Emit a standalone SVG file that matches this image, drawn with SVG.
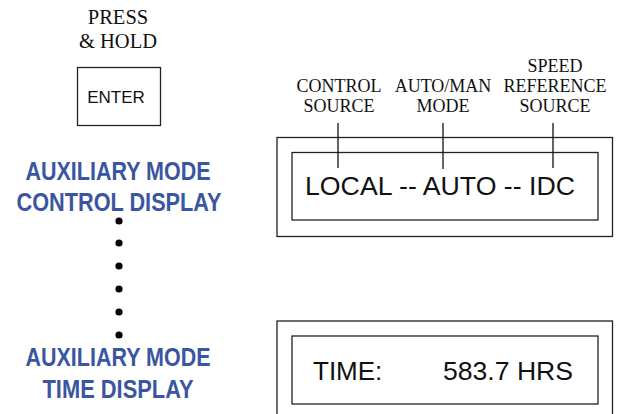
<svg xmlns="http://www.w3.org/2000/svg" width="617" height="414" viewBox="0 0 617 414">
<style>
.serif{font-family:"Liberation Serif","Times New Roman",serif;fill:#111;text-anchor:middle}
.sans{font-family:"Liberation Sans",Arial,sans-serif;fill:#111}
.blue{font-family:"Liberation Sans Narrow","Liberation Sans",Arial,sans-serif;font-weight:bold;fill:#3b56a0;font-size:26px;text-anchor:middle}
.box{fill:#fff;stroke:#222;stroke-width:1.3}
.ln{stroke:#111;stroke-width:1.3;fill:none}
</style>
<rect width="617" height="414" fill="#fff"/>
<g id="press-label">
<text class="serif" x="118" y="24" font-size="20.5">PRESS</text>
<text class="serif" x="118" y="48" font-size="20.5">&amp; HOLD</text>
</g>
<g id="enter-key">
<rect class="box" x="77.5" y="67.5" width="83" height="58"/>
<text class="sans" x="116" y="103" font-size="17" text-anchor="middle">ENTER</text>
</g>
<g id="aux-control-label">
<text class="blue" x="118" y="180" textLength="185" lengthAdjust="spacingAndGlyphs">AUXILIARY MODE</text>
<text class="blue" x="119" y="211" textLength="205" lengthAdjust="spacingAndGlyphs">CONTROL DISPLAY</text>
</g>
<g id="dots" fill="#000">
<circle cx="119" cy="221" r="3.6"/>
<circle cx="119" cy="243" r="3.6"/>
<circle cx="119" cy="266" r="3.6"/>
<circle cx="119" cy="289" r="3.6"/>
<circle cx="119" cy="312" r="3.6"/>
<circle cx="119" cy="335" r="3.6"/>
</g>
<g id="aux-time-label">
<text class="blue" x="118" y="366" textLength="185" lengthAdjust="spacingAndGlyphs">AUXILIARY MODE</text>
<text class="blue" x="118" y="398" textLength="151" lengthAdjust="spacingAndGlyphs">TIME DISPLAY</text>
</g>
<g id="field-labels">
<text class="serif" x="339" y="92" font-size="18">CONTROL</text>
<text class="serif" x="339" y="112" font-size="18">SOURCE</text>
<text class="serif" x="443" y="92" font-size="18">AUTO/MAN</text>
<text class="serif" x="443" y="112" font-size="18">MODE</text>
<text class="serif" x="555" y="72" font-size="18">SPEED</text>
<text class="serif" x="555" y="92" font-size="18">REFERENCE</text>
<text class="serif" x="555" y="112" font-size="18">SOURCE</text>
</g>
<g id="control-display">
<rect class="box" x="277" y="137.5" width="335.5" height="99"/>
<rect class="box" x="292" y="152.5" width="306" height="67.5"/>
<text class="sans" x="305" y="195" font-size="26" textLength="270" lengthAdjust="spacingAndGlyphs">LOCAL -- AUTO -- IDC</text>
</g>
<g id="connectors">
<line class="ln" x1="338" y1="123" x2="338" y2="168"/>
<line class="ln" x1="443" y1="123" x2="443" y2="169"/>
<line class="ln" x1="553" y1="123" x2="553" y2="168"/>
</g>
<g id="time-display">
<rect class="box" x="277" y="321" width="335.5" height="110"/>
<rect class="box" x="292" y="336" width="306" height="68"/>
<text class="sans" x="313" y="380" font-size="26">TIME:</text>
<text class="sans" x="443" y="380" font-size="26" textLength="130" lengthAdjust="spacingAndGlyphs">583.7 HRS</text>
</g>
</svg>
